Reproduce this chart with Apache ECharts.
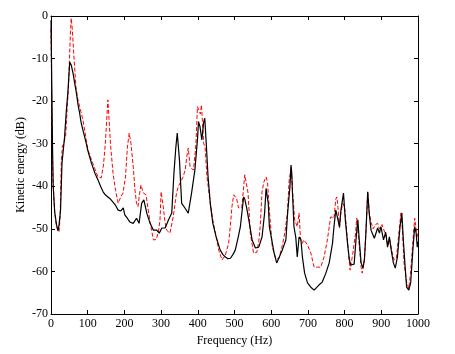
<!DOCTYPE html>
<html>
<head>
<meta charset="utf-8">
<script src="https://cdn.jsdelivr.net/npm/echarts@6/dist/echarts.min.js"></script>
<style>
  html, body { margin: 0; padding: 0; background: #fff; }
  #main { width: 455px; height: 354px; }
</style>
</head>
<body>
<div id="main"></div>
<script>
// black solid curve
var freqBlack = [0, 2, 4, 6, 10, 15, 19, 22, 26, 30, 37, 42, 46, 51, 55, 60, 65, 69, 74, 78, 82, 87, 92, 96, 100,
    105, 110, 114, 120, 128, 135, 142, 148, 155, 162, 169, 176, 183, 190, 197, 201, 208, 215, 224, 233, 240,
    247, 253, 261, 270, 279, 288, 295, 302, 311, 320, 329, 335, 340, 344, 350, 356, 365, 374, 383, 392, 399,
    402, 406, 411, 416, 419, 422, 428, 434, 441, 450, 461, 468, 475, 482, 489, 496, 502, 510, 516, 521, 525,
    528, 533, 539, 548, 557, 566, 575, 582, 586, 589, 592, 595, 600, 608, 615, 620, 630, 640, 644, 648, 651,
    654, 656, 658, 662, 667, 671, 676, 681, 685, 691, 699, 708, 717, 721, 730, 739, 749, 758, 767, 771, 776,
    780, 786, 790, 797, 802, 808, 813, 817, 826, 831, 836, 840, 845, 850, 854, 858, 863, 867, 872, 881, 890,
    895, 899, 906, 912, 917, 922, 927, 933, 938, 944, 951, 956, 960, 965, 969, 975, 980, 986, 991, 995, 998, 1000];
var energyBlack = [-1, -15, -30, -40, -46, -49, -50.5, -49, -45.6, -34.5, -28.4, -22, -18, -10.8, -11.5, -13.4, -16,
    -18, -21, -22.8, -25, -26.8, -28.5, -29.9, -31.5, -33, -34.5, -35.5, -37, -38.5, -40, -41.3, -42, -42.5,
    -43, -43.7, -44.5, -45.6, -45.8, -45.1, -46.7, -47.5, -48.4, -48.7, -47.5, -48.7, -44, -43.2, -46.3, -48.7,
    -50.3, -50.3, -51, -49.8, -49.8, -47.9, -46.3, -36.9, -31, -27.5, -33.8, -44, -45.1, -46.3, -41.6, -36.2,
    -29.1, -24.8, -26, -29.1, -25, -24, -28.4, -37.8, -44, -48.7, -51.9, -55, -56, -56.6, -57, -56.9, -56,
    -55, -52, -49.5, -45.5, -42.5, -43, -45, -47.9, -52.6, -54.5, -54.3, -51.9, -46.3, -40.5, -40.4, -44,
    -49.5, -51.9, -55.7, -58, -57.8, -55, -52.6, -47.2, -43, -40.2, -35, -37, -41.6, -49.5, -52, -56.6, -51.9,
    -52.5, -56.6, -60.4, -62.7, -63.7, -64.4, -64.6, -63.2, -62.5, -60.4, -58, -53.4, -49.5, -45.6, -46, -49.5,
    -45.6, -41.6, -47.9, -53.4, -57.3, -58.5, -58.3, -52.6, -47.9, -52.6, -58, -59.2, -57.3, -51, -41.3, -46.3,
    -50.3, -52.2, -49.8, -51, -49.5, -52.6, -50.8, -54.3, -51.9, -55, -58, -59.2, -56.6, -49.5, -46.3, -52.6,
    -59, -63.7, -64.4, -62.7, -55, -49.5, -51, -54.3, -53];

// red dashed curve
var freqRed = [0, 2, 5, 10, 15, 22, 25, 28, 31, 35, 40, 44, 48, 52, 55, 58, 63, 68, 73, 78, 83, 87, 92, 96, 101,
    107, 114, 120, 128, 137, 143, 148, 152, 155, 158, 162, 169, 176, 183, 190, 196, 203, 208, 213, 218, 224,
    229, 233, 237, 241, 245, 252, 259, 265, 270, 274, 279, 287, 293, 297, 300, 302, 306, 310, 315, 324, 333,
    338, 342, 347, 352, 360, 366, 370, 374, 379, 384, 388, 392, 395, 399, 404, 407, 410, 416, 420, 425, 434,
    441, 448, 457, 466, 475, 484, 490, 493, 498, 502, 506, 511, 520, 524, 528, 532, 537, 543, 552, 561, 566,
    570, 575, 580, 586, 590, 595, 603, 612, 621, 630, 637, 644, 649, 655, 658, 664, 671, 676, 680, 685, 689,
    694, 699, 708, 717, 726, 735, 744, 753, 762, 771, 776, 779, 782, 786, 790, 795, 800, 805, 810, 815, 822,
    830, 833, 838, 845, 848, 854, 858, 863, 867, 872, 878, 884, 890, 895, 902, 908, 913, 918, 923, 930, 935,
    941, 949, 954, 958, 962, 969, 975, 980, 986, 991, 995, 1000];
var energyRed = [-3, -20, -38, -46, -49.5, -50.7, -47, -34.5, -30.5, -30, -28, -22, -15.8, -6, -0.5, -3, -10.3,
    -16.6, -19.5, -21.3, -23, -24.4, -27, -29, -31.5, -33, -34.6, -36, -37.8, -38, -35, -30, -24, -19.7, -24,
    -30, -36.9, -41, -44, -42.5, -41.6, -37.8, -31, -27.5, -30, -35.4, -41, -44, -44.8, -42, -39.7, -41.6, -42,
    -45.6, -48.5, -50.3, -52.6, -52.5, -50.5, -47.9, -41.3, -41.6, -44.8, -48, -50.3, -51, -47.2, -44, -41.6,
    -40, -39.2, -37.8, -36, -33, -31, -35.4, -35.4, -36.2, -33, -29.9, -21.3, -20.9, -23, -20.9, -29.9, -31,
    -37.8, -44, -48, -51, -55, -57.3, -56.2, -53.4, -48, -44.8, -42, -41.6, -43, -45.1, -45, -41, -37.3, -37.5,
    -41.6, -51, -55.7, -55.5, -53, -49.5, -41.3, -39, -37.8, -39, -45.6, -54.3, -56.9, -57, -54, -51, -46.5,
    -38.5, -35.5, -41, -47.9, -49.5, -46.3, -52.6, -53.4, -52.6, -53, -53.8, -55.7, -59, -59, -59, -56.6, -52.6,
    -47.2, -47.5, -43, -42.5, -45, -50, -46, -44, -45, -50, -55, -59.7, -56, -51, -47.5, -52, -59, -60.4, -57,
    -51, -41.3, -46, -48.5, -50, -49, -48.7, -50, -49, -50.5, -51.5, -54, -52.5, -55.7, -57.3, -57, -50, -46,
    -51, -58, -62.5, -64, -60, -53, -47.5, -50, -52];

function pairs(xs, ys) {
    var out = [];
    for (var i = 0; i < xs.length; i++) {
        out.push([xs[i], ys[i]]);
    }
    return out;
}

var myChart = echarts.init(document.getElementById('main'));

var labelFont = {
    color: '#000',
    fontFamily: 'Liberation Serif',
    fontSize: 12
};

var option = {
    animation: false,
    backgroundColor: '#fff',
    grid: {
        left: 51,
        right: 37,
        top: 16,
        bottom: 40
    },
    xAxis: [{
        type: 'value',
        position: 'bottom',
        min: 0,
        max: 1000,
        interval: 100,
        name: 'Frequency (Hz)',
        nameLocation: 'middle',
        nameGap: 18,
        nameTextStyle: labelFont,
        axisLine: { onZero: false, lineStyle: { color: '#000', width: 1 } },
        axisTick: { inside: true, length: 4, lineStyle: { color: '#000' } },
        axisLabel: {
            color: '#000', fontFamily: 'Liberation Serif', fontSize: 12, margin: 4,
            formatter: function (v) { return String(v); }
        },
        splitLine: { show: false }
    }, {
        type: 'value',
        position: 'top',
        min: 0,
        max: 1000,
        interval: 100,
        axisLine: { show: true, onZero: false, lineStyle: { color: '#000', width: 1 } },
        axisTick: { inside: true, length: 4, lineStyle: { color: '#000' } },
        axisLabel: { show: false },
        splitLine: { show: false }
    }],
    yAxis: [{
        type: 'value',
        position: 'left',
        min: -70,
        max: 0,
        interval: 10,
        name: 'Kinetic energy (dB)',
        nameLocation: 'middle',
        nameGap: 24,
        nameMoveOverlap: false,
        nameTextStyle: labelFont,
        axisLine: { show: true, onZero: false, lineStyle: { color: '#000', width: 1 } },
        axisTick: { show: true, inside: true, length: 4, lineStyle: { color: '#000' } },
        axisLabel: { color: '#000', fontFamily: 'Liberation Serif', fontSize: 12, margin: 3 },
        splitLine: { show: false }
    }, {
        type: 'value',
        position: 'right',
        min: -70,
        max: 0,
        interval: 10,
        axisLine: { show: true, onZero: false, lineStyle: { color: '#000', width: 1 } },
        axisTick: { show: true, inside: true, length: 4, lineStyle: { color: '#000' } },
        axisLabel: { show: false },
        splitLine: { show: false }
    }],
    series: [{
        name: 'black',
        type: 'line',
        xAxisIndex: 0,
        yAxisIndex: 0,
        showSymbol: false,
        data: pairs(freqBlack, energyBlack),
        lineStyle: { color: '#000', width: 1.2 },
        z: 3
    }, {
        name: 'red',
        type: 'line',
        xAxisIndex: 0,
        yAxisIndex: 0,
        showSymbol: false,
        data: pairs(freqRed, energyRed),
        lineStyle: { color: '#ff0000', width: 1, type: [4, 2] },
        z: 2
    }]
};

myChart.setOption(option);
</script>
</body>
</html>
